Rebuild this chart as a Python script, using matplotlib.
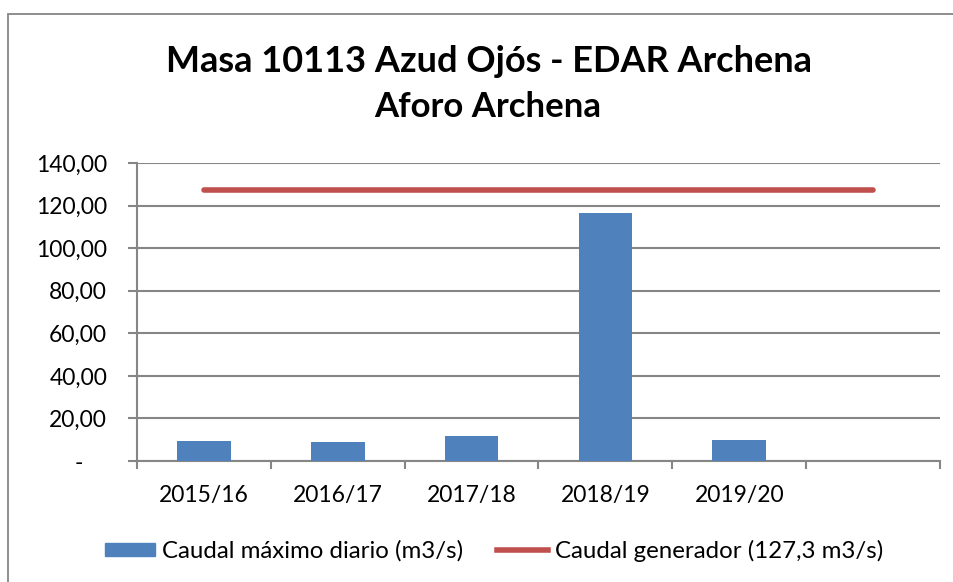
import matplotlib
matplotlib.use("Agg")
import matplotlib.pyplot as plt
import matplotlib.patches as mpatches
from matplotlib.lines import Line2D
from matplotlib.ticker import FuncFormatter, FixedLocator

categories = ["2015/16", "2016/17", "2017/18", "2018/19", "2019/20", ""]
caudal_maximo = [9.4, 8.8, 11.8, 116.3, 10.0]
caudal_generador = [127.3] * 6
title_main = "Masa 10113 Azud Ojós - EDAR Archena"
title_sub = "Aforo Archena"
legend_labels = ["Caudal máximo diario (m3/s)", "Caudal generador (127,3 m3/s)"]

plt.rcParams['font.family'] = ['Lato', 'DejaVu Sans']
W, H = 954, 582
fig = plt.figure(figsize=(W / 100, H / 100), dpi=100)

# outer chart border
fig.add_artist(mpatches.Rectangle((8 / W, -0.1), 1.2, (H - 14) / H + 0.1,
                                  transform=fig.transFigure, fill=False,
                                  edgecolor="#868686", linewidth=1.3))

ax = fig.add_axes([137 / W, (H - 461) / H, (940 - 137) / W, (461 - 163) / H])
grid_c = "#868686"
fs = 16.5
n = len(categories)
xs = list(range(n))
ax.bar(xs[:len(caudal_maximo)], caudal_maximo, width=0.4, color="#4F81BD", zorder=3)
ax.plot(xs, caudal_generador, color="#C0504D", linewidth=4.0, solid_capstyle="round", zorder=4)

ax.set_xlim(-0.5, n - 0.5)
ax.set_ylim(0, 140)
ax.set_yticks(range(0, 141, 20))
ax.yaxis.set_major_formatter(FuncFormatter(lambda v, p: "-    " if v == 0 else f"{v:.2f}".replace(".", ",")))
ax.set_xticks(xs)
ax.set_xticklabels(categories)
ax.xaxis.set_minor_locator(FixedLocator([i - 0.5 for i in range(n + 1)]))
ax.tick_params(axis="x", which="major", length=0, pad=17, labelsize=fs, colors="black")
ax.tick_params(axis="x", which="minor", length=6, width=1.5, color=grid_c, direction="out")
ax.tick_params(axis="y", length=6.5, width=1.5, color=grid_c, labelsize=fs, pad=15)
ax.grid(axis="y", color=grid_c, linewidth=1.5, zorder=0)
for s in ["top", "right"]:
    ax.spines[s].set_visible(False)
for s in ["left", "bottom"]:
    ax.spines[s].set_color(grid_c)
    ax.spines[s].set_linewidth(1.5)

fig.text(489 / W, 1 - 61 / H, title_main, ha="center", va="center", fontsize=26, fontweight="bold")
fig.text(488 / W, 1 - 107 / H, title_sub, ha="center", va="center", fontsize=25, fontweight="bold")

handles = [mpatches.Patch(color="#4F81BD"), Line2D([0], [0], color="#C0504D", linewidth=4.0)]
fig.legend(handles, legend_labels, loc="center", bbox_to_anchor=(494 / W, 1 - 551 / H), ncol=2,
           frameon=False, fontsize=17.3, handlelength=2.1, handleheight=0.5,
           handletextpad=0.3, columnspacing=1.4)

fig.savefig("out.png", dpi=100)
